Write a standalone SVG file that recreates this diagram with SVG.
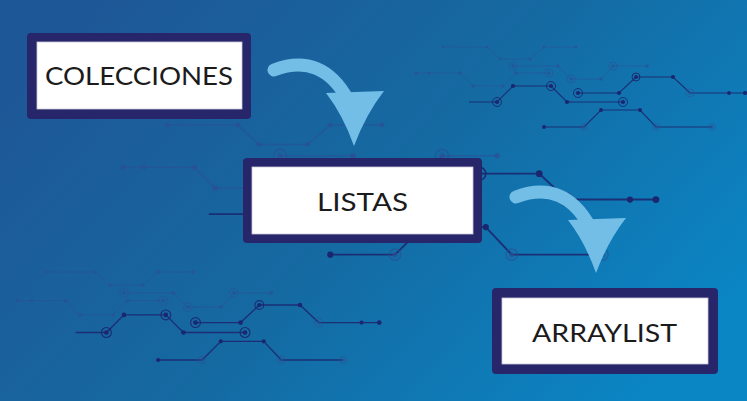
<svg xmlns="http://www.w3.org/2000/svg" xmlns:xlink="http://www.w3.org/1999/xlink" width="747" height="401" viewBox="0 0 747 401">
  <style>
    .wire-faint { fill: none; stroke: #2c4f93; stroke-opacity: 0.55; stroke-width: 0.9; }
    .wire-dark { fill: none; stroke: #1c2870; stroke-opacity: 0.9; stroke-width: 1.2; }
    .dot-faint { fill: #2c4f93; fill-opacity: 0.65; }
    .dot-dark { fill: #1b2670; }
    .ring-faint { fill: none; stroke: #2c4f93; stroke-opacity: 0.6; stroke-width: 0.9; }
    .ring-dark { fill: none; stroke: #1b2670; stroke-opacity: 0.9; stroke-width: 1; }
    .frame { fill: #27266a; }
    .card { fill: #ffffff; stroke: #c9c9d6; stroke-width: 0.8; }
    .label { font-family: "Lato", "Noto Sans", "Liberation Sans", sans-serif; font-size: 25px; font-weight: 400; fill: #1b1b1b; text-anchor: middle; }
    .arrow { fill: #73bee6; }
    .shaft { fill: none; stroke: #73bee6; stroke-width: 13; stroke-linecap: round; }
  </style>
  <defs>
    <linearGradient id="bg" x1="0" y1="0.25" x2="1" y2="0.75">
      <stop offset="0" stop-color="#1e5797"/>
      <stop offset="0.5" stop-color="#156aa2"/>
      <stop offset="1" stop-color="#0a86c5"/>
    </linearGradient>
    <!-- circuit trace motif, drawn at its top-right position -->
    <g id="circuit">
      <polyline class="wire-faint" points="443,47 487,47 500,59 530,59 544,47 576,47"/>
      <polyline class="wire-faint" points="513,66 558,66 571,79 601,79 613,66 647,66"/>
      <polyline class="wire-faint" points="416,73 460,73 473,86 503,86 516,73 549,73"/>
      <polyline class="wire-dark" points="469,102 497,102 513,86 551,86 567,102 623,102"/>
      <polyline class="wire-dark" points="578,93 619,93 636,77 673,77 690,93 747,93"/>
      <polyline class="wire-dark" points="544,127 584,127 601,110 640,110 656,127 712,127"/>
      <g class="dot-faint">
        <circle cx="443" cy="47" r="1.5"/><circle cx="487" cy="47" r="1.5"/><circle cx="500" cy="59" r="1.5"/>
        <circle cx="530" cy="59" r="1.5"/><circle cx="544" cy="47" r="1.5"/><circle cx="576" cy="47" r="1.5"/>
        <circle cx="513" cy="66" r="1.7"/><circle cx="558" cy="66" r="1.7"/><circle cx="571" cy="79" r="1.7"/>
        <circle cx="601" cy="79" r="1.7"/><circle cx="613" cy="66" r="1.7"/><circle cx="647" cy="66" r="1.7"/>
        <circle cx="416" cy="73" r="1.7"/><circle cx="429" cy="73" r="1.5"/><circle cx="460" cy="73" r="1.7"/>
        <circle cx="473" cy="86" r="1.7"/><circle cx="503" cy="86" r="1.5"/><circle cx="516" cy="73" r="1.7"/>
        <circle cx="549" cy="73" r="1.7"/>
        <circle cx="584" cy="127" r="1.7"/><circle cx="656" cy="127" r="1.7"/><circle cx="712" cy="127" r="1.7"/>
        <circle cx="690" cy="93" r="1.7"/>
      </g>
      <g class="ring-faint">
        <circle cx="513" cy="66" r="4"/><circle cx="571" cy="79" r="4"/><circle cx="613" cy="66" r="4"/>
        <circle cx="549" cy="73" r="4"/><circle cx="584" cy="127" r="3.5"/><circle cx="656" cy="127" r="3.5"/>
        <circle cx="712" cy="127" r="3.5"/><circle cx="690" cy="93" r="4"/>
      </g>
      <g class="dot-dark">
        <circle cx="497" cy="102" r="2.1"/><circle cx="513" cy="86" r="2.1"/><circle cx="551" cy="86" r="2.1"/>
        <circle cx="567" cy="102" r="2.1"/><circle cx="623" cy="102" r="2.1"/>
        <circle cx="578" cy="93" r="2.1"/><circle cx="619" cy="93" r="2.1"/><circle cx="636" cy="77" r="1.9"/>
        <circle cx="673" cy="77" r="2.1"/><circle cx="729" cy="93" r="1.9"/><circle cx="745" cy="93" r="2.1"/>
        <circle cx="544" cy="127" r="1.9"/><circle cx="601" cy="110" r="1.9"/><circle cx="640" cy="110" r="1.9"/>
      </g>
      <g class="ring-dark">
        <circle cx="497" cy="102" r="4.5"/><circle cx="551" cy="86" r="4.5"/><circle cx="623" cy="102" r="4.5"/>
        <circle cx="578" cy="93" r="4.5"/><circle cx="636" cy="77" r="4"/>
      </g>
    </g>
  </defs>

  <!-- background -->
  <rect x="0" y="0" width="747" height="401" fill="url(#bg)"/>

  <!-- circuit decoration -->
  <g id="decoration">
    <use xlink:href="#circuit"/>
    <use xlink:href="#circuit" transform="matrix(1.1 0 0 1.1 -440.3 220.3)"/>
    <use xlink:href="#circuit" transform="matrix(1.62 0 0 1.62 -551 48.9)"/>
  </g>

  <!-- connectors -->
  <g id="connectors">
    <g id="arrow-colecciones-listas">
      <path class="shaft" d="M274,70 Q322,52 348,100"/>
      <path class="arrow" d="M326,93 L384,91 Q366,114 354,146 Q343,115 326,93 Z"/>
    </g>
    <g id="arrow-listas-arraylist" transform="translate(242,127)">
      <path class="shaft" d="M274,70 Q322,52 348,100"/>
      <path class="arrow" d="M326,93 L384,91 Q366,114 354,146 Q343,115 326,93 Z"/>
    </g>
  </g>

  <!-- nodes -->
  <g id="node-colecciones">
    <rect class="frame" x="27" y="33" width="224" height="86" rx="4"/>
    <rect class="card" x="37" y="42" width="205" height="67"/>
    <text class="label" x="139" y="85" textLength="188" lengthAdjust="spacingAndGlyphs">COLECCIONES</text>
  </g>
  <g id="node-listas">
    <rect class="frame" x="243" y="158" width="239" height="85" rx="4"/>
    <rect class="card" x="252" y="167" width="221" height="67"/>
    <text class="label" x="362.5" y="211" textLength="91" lengthAdjust="spacingAndGlyphs">LISTAS</text>
  </g>
  <g id="node-arraylist">
    <rect class="frame" x="492" y="288" width="226" height="86" rx="4"/>
    <rect class="card" x="502" y="298" width="206" height="66"/>
    <text class="label" x="604.5" y="342" textLength="145" lengthAdjust="spacingAndGlyphs">ARRAYLIST</text>
  </g>
</svg>
